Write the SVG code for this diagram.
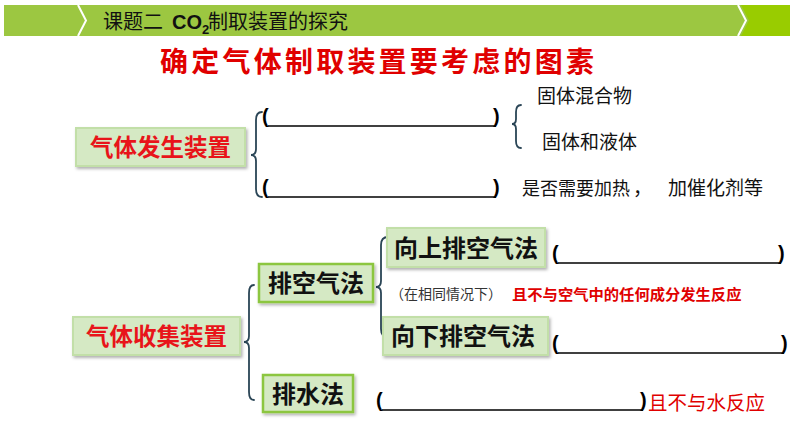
<svg xmlns="http://www.w3.org/2000/svg" width="794" height="447" viewBox="0 0 794 447">
<defs>
<filter id="sh" x="-10%" y="-20%" width="130%" height="150%">
<feDropShadow dx="1.5" dy="2" stdDeviation="1.5" flood-color="#000" flood-opacity="0.3"/>
</filter>
</defs>
<style>
text{font-family:"Noto Sans CJK SC","Liberation Sans",sans-serif;}
.box{fill:#d5e9c4;filter:url(#sh);}
.soft{stroke:#c2dfa8;stroke-width:2;}
.strong{stroke:#8cc63f;stroke-width:2.5;}
.red{fill:#e8141a;font-weight:bold;font-size:23.5px;text-anchor:middle;}
.blk{fill:#111;font-weight:bold;font-size:24px;text-anchor:middle;}
.brace{fill:none;stroke:#2a4556;stroke-width:1.8;stroke-linecap:round;}
.par{font-family:"Liberation Sans",sans-serif;font-weight:bold;font-size:20px;fill:#000;}
.ul{stroke:#000;stroke-width:1.5;}
.note{font-size:19px;fill:#111;}
</style>
<rect width="794" height="447" fill="#fff"/>
<g id="header">
<rect x="4" y="5" width="786" height="31" fill="#9cc741"/>
<polygon points="741,5 790,5 790,36 741,36 749,20.5" fill="#99cc00"/>
<polyline points="78,5 86,20.5 78,36" fill="none" stroke="#fff" stroke-width="2"/>
<polyline points="738,5 746,20.5 738,36" fill="none" stroke="#fff" stroke-width="2"/>
<text x="103" y="29" font-size="20" fill="#111">课题二<tspan x="172" font-family="Liberation Sans" font-weight="bold">CO</tspan><tspan font-family="Liberation Sans" font-weight="bold" font-size="13" dy="5">2</tspan><tspan x="208" dy="-5">制取装置的探究</tspan></text>
</g>
<text id="title" x="160" y="72" font-size="28" font-weight="bold" fill="#e00000" textLength="434" lengthAdjust="spacing">确定气体制取装置要考虑的图素</text>
<g id="connectors">
<path class="brace" d="M262,112 Q256,112 256,120 L256,149 Q256,155 251,155 Q256,155 256,161 L256,189 Q256,197 262,197"/>
<path class="brace" d="M521,105 Q516,105 516,112 L516,119 Q516,124 512,124 Q516,124 516,129 L516,141 Q516,148 521,148"/>
<path class="brace" d="M254,285 Q249,285 249,293 L249,336 Q249,342 244,342 Q249,342 249,348 L249,392 Q249,400 254,400"/>
<path class="brace" d="M388,237 Q381,237 381,245 L381,281 Q381,287 376,287 Q381,287 381,293 L381,329 Q381,337 388,337"/>
</g>
<g id="node-gen">
<rect class="box soft" x="76" y="128" width="169" height="38"/>
<text class="red" x="160.5" y="156">气体发生装置</text>
</g>
<g id="node-collect">
<rect class="box soft" x="73" y="317" width="167" height="38"/>
<text class="red" x="156.5" y="345">气体收集装置</text>
</g>
<g id="node-paikongqi">
<rect class="box strong" x="259" y="264" width="114" height="38"/>
<text class="blk" x="316" y="292">排空气法</text>
</g>
<g id="node-shangpai">
<rect class="box soft" x="387" y="228" width="158" height="39"/>
<text class="blk" x="466" y="256.5">向上排空气法</text>
</g>
<g id="node-xiapai">
<rect class="box soft" x="383" y="317" width="165" height="38"/>
<text class="blk" x="463" y="345">向下排空气法</text>
</g>
<g id="node-paishui">
<rect class="box strong" x="263" y="375" width="90" height="37"/>
<text class="blk" x="308" y="402.5">排水法</text>
</g>
<g id="blanks">
<text class="par" x="262" y="123">(</text>
<line class="ul" x1="268" y1="126" x2="496" y2="126"/>
<text class="par" x="493" y="123">)</text>
<text class="par" x="262" y="194">(</text>
<line class="ul" x1="268" y1="197" x2="496" y2="197"/>
<text class="par" x="493" y="194">)</text>
<text class="par" x="552" y="260">(</text>
<line class="ul" x1="558" y1="263" x2="781" y2="263"/>
<text class="par" x="778" y="260">)</text>
<text class="par" x="552" y="350">(</text>
<line class="ul" x1="558" y1="353" x2="784" y2="353"/>
<text class="par" x="781" y="350">)</text>
<text class="par" x="376" y="407">(</text>
<line class="ul" x1="382" y1="410" x2="643" y2="410"/>
<text class="par" x="640" y="407">)</text>
</g>
<g id="notes">
<text class="note" x="537" y="102.5">固体混合物</text>
<text class="note" x="542" y="148.5">固体和液体</text>
<text class="note" x="522" y="195"><tspan font-size="18">是否需要加热</tspan><tspan x="633">，</tspan><tspan x="668">加催化剂等</tspan></text>
<text x="390" y="299" font-size="14" fill="#333">（在相同情况下）</text>
<text x="512" y="299.5" font-size="15.3" font-weight="bold" fill="#e00000">且不与空气中的任何成分发生反应</text>
<text x="648" y="410" font-size="19.5" fill="#e00000">且不与水反应</text>
</g>
</svg>
